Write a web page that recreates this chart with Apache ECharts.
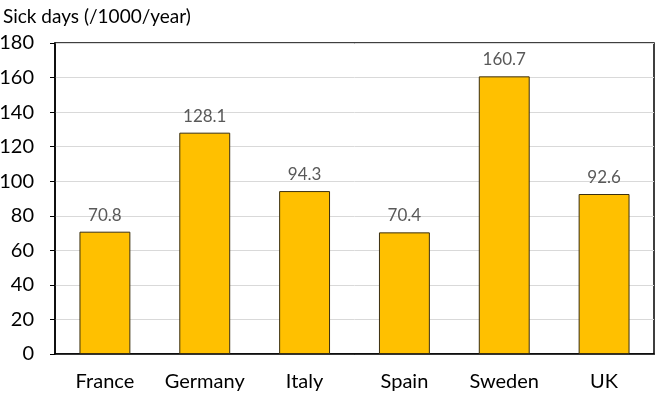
<!DOCTYPE html>
<html>
<head>
<meta charset="utf-8">
<script src="https://cdn.jsdelivr.net/npm/echarts@6/dist/echarts.min.js"></script>
<style>
  html, body { margin: 0; padding: 0; background: #fff; }
  #chart { width: 656px; height: 395px; }
</style>
</head>
<body>
<div id="chart"></div>
<script>
const countries = ['France', 'Germany', 'Italy', 'Spain', 'Sweden', 'UK'];
const sickDays = [70.8, 128.1, 94.3, 70.4, 160.7, 92.6];

const font = 'Lato, "Open Sans", sans-serif';

const chart = echarts.init(document.getElementById('chart'));
chart.setOption({
  animation: false,
  title: {
    text: 'Sick days (/1000/year)',
    left: -2, top: 2,
    textStyle: { fontFamily: font, fontSize: 19, fontWeight: 'normal', color: '#000' }
  },
  grid: {
    left: 55, right: 2, top: 43, bottom: 41,
    outerBoundsMode: 'none',
    show: true, borderColor: '#000', borderWidth: 1.5
  },
  xAxis: {
    type: 'category',
    data: countries,
    axisLine: { lineStyle: { color: '#000', width: 1.5 } },
    axisTick: { show: false },
    axisLabel: { interval: 0, hideOverlap: false, fontFamily: font, fontSize: 20, color: '#000', margin: 18 }
  },
  yAxis: {
    type: 'value',
    min: 0, max: 180, interval: 20,
    axisLine: { show: true, lineStyle: { color: '#000', width: 1.5 } },
    axisTick: { show: true, length: 5, lineStyle: { color: '#000' } },
    splitLine: { lineStyle: { color: '#d9d9d9', width: 1 } },
    axisLabel: { fontFamily: font, fontSize: 20, color: '#000', margin: 21 }
  },
  series: [{
    type: 'bar',
    data: sickDays,
    barWidth: '51%',
    itemStyle: { color: '#FFC000', borderColor: '#3a2f10', borderWidth: 1 },
    label: {
      show: true, position: 'top', distance: 8,
      fontFamily: font, fontSize: 17, color: '#595959',
      formatter: p => p.value.toFixed(1)
    }
  }]
});
</script>
</body>
</html>
